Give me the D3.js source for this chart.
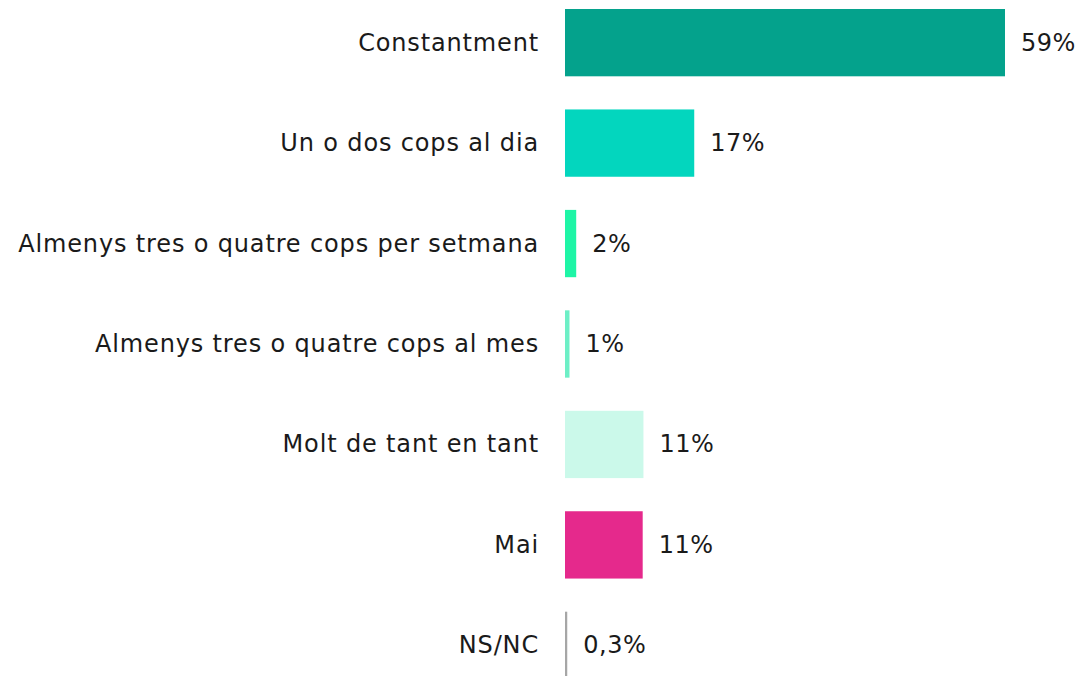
<!DOCTYPE html>
<html>
<head>
<meta charset="utf-8">
<script src="https://cdn.jsdelivr.net/npm/d3@7"></script>
<style>
  html, body { margin: 0; padding: 0; background: #fff; }
  #chart { width: 1084px; height: 676px; overflow: hidden; }
</style>
</head>
<body>
<div id="chart"></div>
<script>
// Freqüència - barres horitzontals

const categories = [
    'Constantment',
    'Un o dos cops al dia',
    'Almenys tres o quatre cops per setmana',
    'Almenys tres o quatre cops al mes',
    'Molt de tant en tant',
    'Mai',
    'NS/NC'
];
const values = [58.9, 17.3, 1.5, 0.6, 10.5, 10.4, 0.3];
const valueLabels = ['59%', '17%', '2%', '1%', '11%', '11%', '0,3%'];
const colors = ['#04a28c', '#03d6be', '#1ef5a6', '#6defc6', '#cbf9ea', '#e5298c', '#a6a6a6'];

function drawChart() {
    const width = 1084;
    const height = 676;
    const barLeft = 565;

    const svg = d3.select('#chart')
        .append('svg')
        .attr('width', width)
        .attr('height', height)
        .style('font-family', '"DejaVu Sans", sans-serif');

    const x = d3.scaleLinear()
        .domain([0, 58.9])
        .range([barLeft, 1005]);

    const y = d3.scaleBand()
        .domain(categories)
        .range([9, 679])
        .paddingInner(0.33)
        .paddingOuter(0);

    const rows = svg.selectAll('g.row')
        .data(categories.map((c, i) => ({ name: c, value: values[i], label: valueLabels[i], color: colors[i] })))
        .join('g')
        .attr('class', 'row');

    rows.append('rect')
        .attr('x', x(0))
        .attr('y', d => y(d.name))
        .attr('width', d => x(d.value) - x(0))
        .attr('height', y.bandwidth())
        .attr('fill', d => d.color);

    // Category labels
    rows.append('text')
        .attr('x', barLeft - 26)
        .attr('y', d => y(d.name) + y.bandwidth() / 2)
        .attr('text-anchor', 'end')
        .attr('dominant-baseline', 'central')
        .attr('font-size', '24px')
        .attr('letter-spacing', '0.85px')
        .attr('fill', '#1a1a1a')
        .text(d => d.name);

    // Value labels
    rows.append('text')
        .attr('x', d => x(d.value) + 16)
        .attr('y', d => y(d.name) + y.bandwidth() / 2)
        .attr('dominant-baseline', 'central')
        .attr('font-size', '24px')
        .attr('letter-spacing', '0.5px')
        .attr('fill', '#1a1a1a')
        .text(d => d.label);
}

drawChart();
</script>
</body>
</html>
